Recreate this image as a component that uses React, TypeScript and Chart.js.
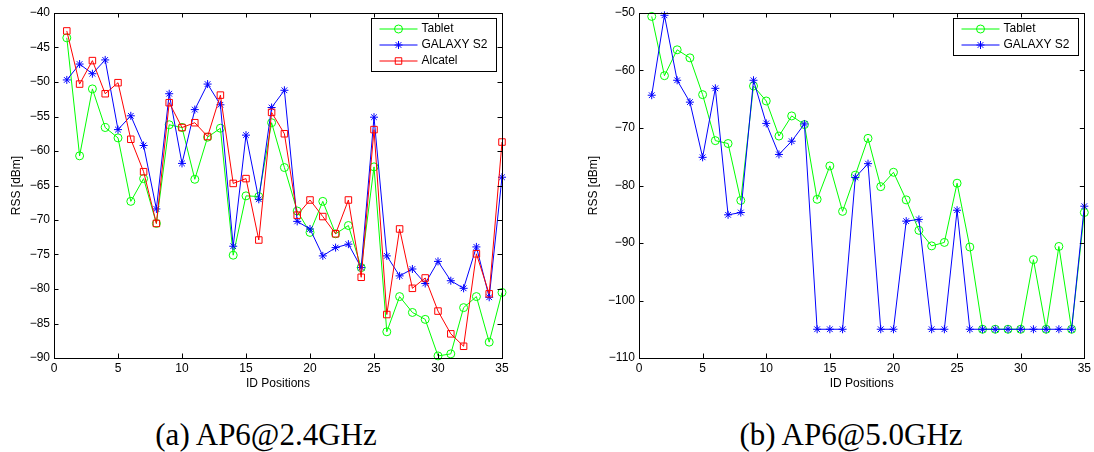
import React, { useEffect, useRef } from "react";
import { Chart, registerables } from "chart.js";

Chart.register(...registerables);

// ---------- data ----------
const positions = [1, 2, 3, 4, 5, 6, 7, 8, 9, 10, 11, 12, 13, 14, 15, 16, 17, 18, 19, 20, 21, 22, 23, 24, 25, 26, 27, 28, 29, 30, 31, 32, 33, 34, 35];

const tablet24 = [-43.6, -60.7, -51.0, -56.6, -58.1, -67.3, -64.0, -70.5, -56.2, -56.6, -64.1, -58.0, -56.7, -75.1, -66.5, -66.6, -55.9, -62.4, -68.7, -71.8, -67.3, -72.0, -70.8, -76.9, -62.3, -86.2, -81.1, -83.4, -84.4, -89.7, -89.4, -82.7, -81.1, -87.7, -80.5];
const galaxy24 = [-49.7, -47.4, -48.8, -46.8, -56.9, -54.9, -59.2, -68.4, -51.7, -61.8, -54.0, -50.3, -53.3, -73.8, -57.7, -67.0, -53.7, -51.2, -70.2, -71.3, -75.2, -74.0, -73.5, -76.9, -55.1, -75.2, -78.1, -77.1, -79.2, -76.0, -78.8, -79.9, -73.9, -81.2, -63.8];
const alcatel24 = [-42.6, -50.3, -46.9, -51.7, -50.1, -58.3, -63.0, -70.5, -53.0, -56.6, -55.9, -57.9, -51.9, -64.7, -64.0, -72.9, -54.4, -57.5, -69.3, -67.1, -69.5, -72.0, -67.1, -78.3, -56.9, -83.7, -71.3, -79.9, -78.4, -83.2, -86.5, -88.3, -74.9, -80.7, -58.7];

const tablet50 = [-50.6, -60.9, -56.4, -57.8, -64.2, -72.2, -72.7, -82.6, -62.7, -65.3, -71.4, -67.9, -69.4, -82.4, -76.6, -84.5, -78.2, -71.8, -80.2, -77.7, -82.5, -87.8, -90.5, -89.9, -79.6, -90.7, -105, -105, -105, -105, -92.9, -105, -90.6, -105, -84.7];
const galaxy50 = [-64.3, -50.4, -61.7, -65.5, -75.1, -63.1, -85.1, -84.7, -61.7, -69.2, -74.6, -72.3, -69.3, -105, -105, -105, -78.6, -76.2, -105, -105, -86.2, -85.9, -105, -105, -84.3, -105, -105, -105, -105, -105, -105, -105, -105, -105, -83.6];

const xTicks = [0, 5, 10, 15, 20, 25, 30, 35];
const yTicks24 = [-40, -45, -50, -55, -60, -65, -70, -75, -80, -85, -90];
const yTicks50 = [-50, -60, -70, -80, -90, -100, -110];

const seriesNames = ["Tablet", "GALAXY S2", "Alcatel"];
const xTitle = "ID Positions";
const yTitle = "RSS [dBm]";
const captions = ["(a) AP6@2.4GHz", "(b) AP6@5.0GHz"];

// ---------- styles ----------
const FONT = "'Liberation Sans', Arial, Helvetica, sans-serif";
const styles = [
  { color: "#00ff00", pointStyle: "circle", radius: 4 },
  { color: "#0000ff", pointStyle: "star", radius: 4 },
  { color: "#ff0000", pointStyle: "rect", radius: 4.6 },
];

function drawMarker(ctx: CanvasRenderingContext2D, kind: string, x: number, y: number, color: string) {
  ctx.save();
  ctx.strokeStyle = color;
  ctx.lineWidth = 1;
  ctx.beginPath();
  if (kind === "circle") {
    ctx.arc(x, y, 4, 0, Math.PI * 2);
  } else if (kind === "star") {
    const r = 4;
    const d = r * Math.SQRT1_2;
    ctx.moveTo(x - r, y); ctx.lineTo(x + r, y);
    ctx.moveTo(x, y - r); ctx.lineTo(x, y + r);
    ctx.moveTo(x - d, y - d); ctx.lineTo(x + d, y + d);
    ctx.moveTo(x - d, y + d); ctx.lineTo(x + d, y - d);
  } else {
    const s = 3.25;
    ctx.rect(x - s, y - s, 2 * s, 2 * s);
  }
  ctx.stroke();
  ctx.restore();
}

const boxPlugin = {
  id: "matlabBox",
  afterDraw(chart: any, _args: any, opts: any) {
    const ctx: CanvasRenderingContext2D = chart.ctx;
    const { left, right, top, bottom } = chart.chartArea;
    const xs = chart.scales.x;
    const ys = chart.scales.y;
    const px = (v: number) => Math.round(v) + 0.5;
    ctx.save();
    ctx.strokeStyle = "#000";
    ctx.lineWidth = 1;
    // inward ticks
    const tl = 4.5;
    ctx.beginPath();
    (opts.xTicks || []).forEach((v: number) => {
      const x = px(xs.getPixelForValue(v));
      ctx.moveTo(x, bottom); ctx.lineTo(x, bottom - tl);
      ctx.moveTo(x, top); ctx.lineTo(x, top + tl);
    });
    (opts.yTicks || []).forEach((v: number) => {
      const y = px(ys.getPixelForValue(v));
      ctx.moveTo(left, y); ctx.lineTo(left + tl, y);
      ctx.moveTo(right, y); ctx.lineTo(right - tl, y);
    });
    ctx.stroke();
    ctx.strokeRect(px(left), px(top), Math.round(right) - Math.round(left), Math.round(bottom) - Math.round(top));

    // legend inside chart area
    const ds = chart.data.datasets;
    const w = 125;
    const h = ds.length * 16 + 5;
    const bx = Math.round(right - 6 - w) + 0.5;
    const by = Math.round(top + 4.5) + 0.5;
    ctx.fillStyle = "#fff";
    ctx.fillRect(bx, by, w, h);
    ctx.strokeStyle = "#000";
    ctx.lineWidth = 1;
    ctx.strokeRect(bx, by, w, h);
    ctx.font = "12px " + FONT;
    ctx.textBaseline = "middle";
    ctx.textAlign = "left";
    ds.forEach((d: any, i: number) => {
      const ry = by + 10.5 + i * 16;
      ctx.strokeStyle = d.borderColor;
      ctx.lineWidth = 1;
      ctx.beginPath();
      ctx.moveTo(bx + 8, ry);
      ctx.lineTo(bx + 46, ry);
      ctx.stroke();
      drawMarker(ctx, d.pointStyle, bx + 27, ry, d.borderColor);
      ctx.fillStyle = "#000";
      ctx.fillText(d.label, bx + 50, ry);
    });
    ctx.restore();
  },
};

const fmt = (v: any) => String(v).replace("-", "\u2212");

function makeConfig(series: number[][], yTicks: number[], padLeft: number, yWidth: number, padRight: number) {
  const datasets = series.map((vals, i) => ({
    label: seriesNames[i],
    data: positions.map((p, j) => ({ x: p, y: vals[j] })),
    borderColor: styles[i].color,
    backgroundColor: "rgba(0,0,0,0)",
    borderWidth: 1,
    pointStyle: styles[i].pointStyle,
    pointRadius: styles[i].radius,
    pointBorderWidth: 1,
    pointBorderColor: styles[i].color,
    pointBackgroundColor: "rgba(0,0,0,0)",
    tension: 0,
    clip: false,
    order: series.length - i,
  }));
  return {
    type: "line",
    data: { datasets },
    plugins: [boxPlugin],
    options: {
      animation: false,
      responsive: false,
      maintainAspectRatio: false,
      devicePixelRatio: 1,
      layout: { padding: { left: padLeft, top: 13, right: padRight, bottom: 0 } },
      plugins: {
        legend: { display: false },
        tooltip: { enabled: false },
        title: { display: false },
        matlabBox: { xTicks, yTicks },
      },
      scales: {
        x: {
          type: "linear",
          min: xTicks[0],
          max: xTicks[xTicks.length - 1],
          grid: { display: false, drawTicks: false },
          border: { display: false },
          afterBuildTicks: (s: any) => { s.ticks = xTicks.map((v) => ({ value: v })); },
          afterFit: (s: any) => { s.height = 42; },
          ticks: { color: "#000", padding: 3, font: { size: 12, family: FONT }, callback: fmt, maxRotation: 0, autoSkip: false },
          title: { display: true, text: xTitle, color: "#000", font: { size: 12, family: FONT }, padding: { top: 0, bottom: 9 } },
        },
        y: {
          type: "linear",
          min: yTicks[yTicks.length - 1],
          max: yTicks[0],
          grid: { display: false, drawTicks: false },
          border: { display: false },
          afterBuildTicks: (s: any) => { s.ticks = yTicks.map((v) => ({ value: v })); },
          afterFit: (s: any) => { s.width = yWidth; },
          ticks: { color: "#000", padding: 4, font: { size: 12, family: FONT }, callback: fmt, autoSkip: false },
          title: { display: true, text: yTitle, color: "#000", font: { size: 12, family: FONT }, padding: { top: 4, bottom: 0 } },
        },
      },
    },
  };
}

function ChartCanvas({ config, left }: { config: any; left: number }) {
  const ref = useRef<HTMLCanvasElement | null>(null);
  useEffect(() => {
    if (!ref.current) return;
    const chart = new Chart(ref.current, config);
    return () => chart.destroy();
  }, [config]);
  return (
    <canvas
      ref={ref}
      width={547}
      height={400}
      style={{ position: "absolute", left, top: 0, width: 547, height: 400 }}
    />
  );
}

const config24 = makeConfig([tablet24, galaxy24, alcatel24], yTicks24, 5, 49, 45);
const config50 = makeConfig([tablet50, galaxy50], yTicks50, 35, 57, 8);

export default function App() {
  const capStyle: React.CSSProperties = {
    position: "absolute",
    top: 417,
    width: 400,
    textAlign: "center",
    fontFamily: "'Liberation Serif', 'Times New Roman', serif",
    fontSize: 31,
    lineHeight: "36px",
    color: "#000",
    whiteSpace: "nowrap",
  };
  return (
    <div style={{ position: "fixed", left: 0, top: 0, width: 1094, height: 452, background: "#fff", overflow: "hidden" }}>
      <ChartCanvas config={config24} left={0} />
      <ChartCanvas config={config50} left={547} />
      <div style={{ ...capStyle, left: 66 }}>{captions[0]}</div>
      <div style={{ ...capStyle, left: 651 }}>{captions[1]}</div>
    </div>
  );
}
